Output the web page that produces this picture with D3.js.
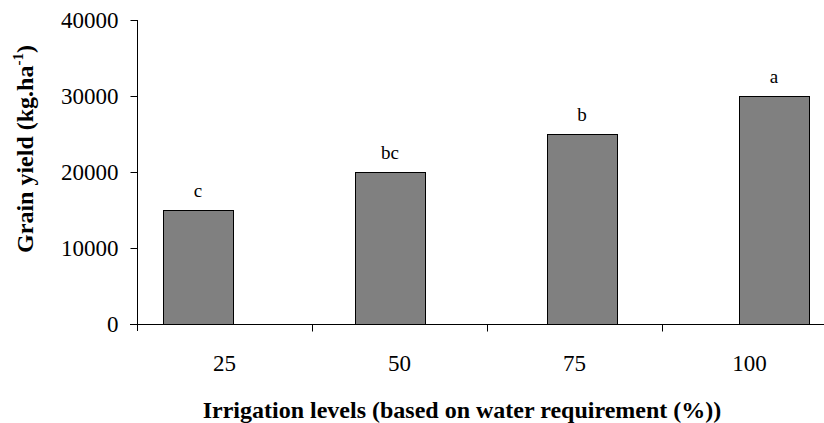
<!DOCTYPE html>
<html>
<head>
<meta charset="utf-8">
<script src="https://cdn.jsdelivr.net/npm/d3@7"></script>
<style>
  html, body { margin: 0; padding: 0; background: #fff; }
  svg { display: block; }
  text { font-family: "Liberation Serif", "Times New Roman", serif; fill: #000; }
</style>
</head>
<body>
<svg id="chart" width="824" height="423"></svg>
<script>
const categories = ["25", "50", "75", "100"];
const yieldValues = [15000, 20000, 25000, 30000];
const letters = ["c", "bc", "b", "a"];
const yTicks = [0, 10000, 20000, 30000, 40000];

const svg = d3.select("#chart");

const y = d3.scaleLinear().domain([0, 40000]).range([324, 20]);
// Category axis (labels & ticks)
const xAxisScale = d3.scaleBand().domain(categories).range([137, 837]).padding(0);
// Bar placement
const xBars = d3.scaleBand().domain(categories).range([41, 931]).paddingInner(0.635).paddingOuter(0.635);

// Bars
svg.append("g").selectAll("rect")
  .data(categories)
  .join("rect")
  .attr("x", (d) => Math.round(xBars(d)) + 0.5)
  .attr("y", (d, i) => Math.round(y(yieldValues[i])) + 0.5)
  .attr("width", Math.round(xBars.bandwidth()))
  .attr("height", (d, i) => Math.round(y(0)) - Math.round(y(yieldValues[i])))
  .attr("fill", "#808080")
  .attr("stroke", "#000")
  .attr("stroke-width", 1);

// Letters
svg.append("g").selectAll("text")
  .data(categories)
  .join("text")
  .attr("x", (d) => xBars(d) + xBars.bandwidth() / 2)
  .attr("y", (d, i) => y(yieldValues[i]) - 13)
  .attr("text-anchor", "middle")
  .style("font-size", "19px")
  .text((d, i) => letters[i]);

// Y axis
const yAxis = svg.append("g")
  .attr("transform", "translate(137.5,0)")
  .call(d3.axisLeft(y).tickValues(yTicks).tickSize(7).tickPadding(12).tickFormat(d3.format("d")));
yAxis.select(".domain").remove();
yAxis.append("line").attr("x1", 0).attr("x2", 0).attr("y1", 20).attr("y2", 331).attr("stroke", "#000");
yAxis.selectAll(".tick line").attr("stroke", "#000");
yAxis.selectAll(".tick text").style("font-size", "23px").style("font-family", "'Liberation Serif', 'Times New Roman', serif").attr("fill", "#000");

// X axis
const xAxis = svg.append("g").attr("transform", "translate(0,324.5)");
xAxis.append("line").attr("x1", 130).attr("x2", 824).attr("y1", 0).attr("y2", 0).attr("stroke", "#000");
xAxis.selectAll("line.tk")
  .data(categories.slice(1))
  .join("line")
  .attr("class", "tk")
  .attr("x1", (d) => Math.round(xAxisScale(d)) + 0.5)
  .attr("x2", (d) => Math.round(xAxisScale(d)) + 0.5)
  .attr("y1", 0).attr("y2", 7)
  .attr("stroke", "#000");
xAxis.selectAll("text.lbl")
  .data(categories)
  .join("text")
  .attr("class", "lbl")
  .attr("x", (d) => xAxisScale(d) + xAxisScale.bandwidth() / 2)
  .attr("y", 46)
  .attr("text-anchor", "middle")
  .style("font-size", "23px")
  .text((d) => d);

// X title
svg.append("text")
  .attr("x", 462)
  .attr("y", 418)
  .attr("text-anchor", "middle")
  .style("font-size", "24px")
  .style("font-weight", "bold")
  .text("Irrigation levels (based on water requirement (%))");

// Y title
const yt = svg.append("text")
  .attr("transform", "translate(33,149) rotate(-90)")
  .attr("text-anchor", "middle")
  .style("font-size", "24px")
  .style("font-weight", "bold");
yt.append("tspan").text("Grain yield (kg.ha");
yt.append("tspan").attr("dy", -10).style("font-size", "15px").text("-1");
yt.append("tspan").attr("dy", 10).text(")");
</script>
</body>
</html>
